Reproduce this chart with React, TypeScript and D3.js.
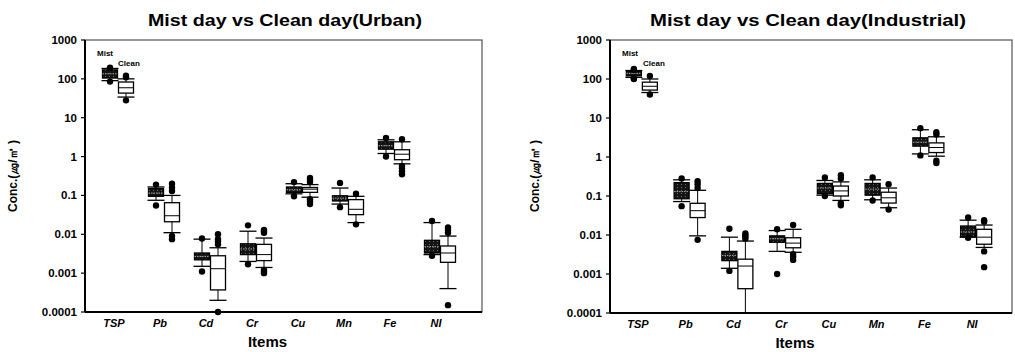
import * as d3 from "d3";
import React, { useRef, useEffect } from "react";

// stats per item: [whiskerLow, q1, median, q3, whiskerHigh]
const items = ["TSP", "Pb", "Cd", "Cr", "Cu", "Mn", "Fe", "Ni"];
const itemLabels = ["TSP", "Pb", "Cd", "Cr", "Cu", "Mn", "Fe", "NI"];
const yTicks = [1000, 100, 10, 1, 0.1, 0.01, 0.001, 0.0001];
const yTickLabels = ["1000", "100", "10", "1", "0.1", "0.01", "0.001", "0.0001"];

const urbanMist = [
  [90, 105, 135, 170, 185],
  [0.075, 0.095, 0.115, 0.15, 0.165],
  [0.0015, 0.0022, 0.0027, 0.0033, 0.0075],
  [0.002, 0.003, 0.0042, 0.0057, 0.012],
  [0.11, 0.12, 0.14, 0.165, 0.2],
  [0.06, 0.072, 0.085, 0.098, 0.155],
  [1.2, 1.55, 1.9, 2.4, 2.7],
  [0.003, 0.0033, 0.0048, 0.007, 0.02],
];
const urbanMistOut = [
  [85, 195],
  [0.055, 0.19],
  [0.0011, 0.0078],
  [0.0017, 0.017],
  [0.095, 0.22],
  [0.05, 0.21],
  [1.0, 3.0],
  [0.0028, 0.022],
];
const urbanClean = [
  [34, 43, 59, 83, 100],
  [0.011, 0.021, 0.03, 0.065, 0.1],
  [0.0002, 0.00037, 0.0013, 0.0028, 0.0045],
  [0.0014, 0.0021, 0.003, 0.0055, 0.008],
  [0.09, 0.12, 0.145, 0.16, 0.19],
  [0.02, 0.032, 0.044, 0.078, 0.095],
  [0.65, 0.83, 1.15, 1.5, 2.4],
  [0.0004, 0.0019, 0.0033, 0.005, 0.009],
];
const urbanCleanOut = [
  [28, 110, 120],
  [0.0075, 0.009, 0.13, 0.16, 0.2],
  [0.0001, 0.0055, 0.0065, 0.0075, 0.01],
  [0.001, 0.0011, 0.0012, 0.011, 0.012, 0.013],
  [0.06, 0.07, 0.08, 0.22, 0.25, 0.28],
  [0.018, 0.11],
  [0.35, 0.42, 0.5, 0.57, 2.8],
  [0.00015, 0.011, 0.013, 0.015],
];

const indMist = [
  [110, 120, 140, 155, 165],
  [0.072, 0.085, 0.13, 0.22, 0.26],
  [0.0014, 0.0022, 0.003, 0.0038, 0.0088],
  [0.0038, 0.0065, 0.008, 0.0095, 0.013],
  [0.105, 0.115, 0.16, 0.21, 0.25],
  [0.08, 0.105, 0.15, 0.21, 0.26],
  [1.2, 1.9, 2.4, 3.1, 5.0],
  [0.0088, 0.009, 0.012, 0.017, 0.024],
];
const indMistOut = [
  [100, 105, 170, 180],
  [0.055, 0.28],
  [0.0012, 0.0145],
  [0.001, 0.014],
  [0.1, 0.3],
  [0.077, 0.3],
  [1.1, 5.5],
  [0.0085, 0.028],
];
const indClean = [
  [45, 52, 65, 83, 100],
  [0.0095, 0.028, 0.042, 0.065, 0.14],
  [0.0001, 0.00042, 0.0016, 0.0024, 0.007],
  [0.0036, 0.0047, 0.0062, 0.0085, 0.014],
  [0.077, 0.1, 0.135, 0.18, 0.23],
  [0.05, 0.066, 0.09, 0.125, 0.16],
  [1.05, 1.3, 1.75, 2.3, 3.3],
  [0.0048, 0.0058, 0.0088, 0.014, 0.018],
];
const indCleanOut = [
  [40, 120],
  [0.0075, 0.16, 0.2, 0.24],
  [0.008, 0.009, 0.01, 0.011],
  [0.0023, 0.0028, 0.0032, 0.018],
  [0.058, 0.065, 0.28, 0.34],
  [0.045, 0.2],
  [0.7, 0.8, 3.8, 4.3],
  [0.0015, 0.0038, 0.022, 0.024],
];

const font = "'Liberation Sans', Arial, sans-serif";
const boxW = 15;

function drawPanel(svg, p) {
  const g = svg.append("g");
  const y = d3.scaleLog().domain([0.0001, 1000]).range([p.bottom, p.top]);
  const x = d3.scaleBand().domain(items).range([p.bandL, p.bandR]);

  // frame
  g.append("rect")
    .attr("x", p.left)
    .attr("y", p.top)
    .attr("width", p.right - p.left)
    .attr("height", p.bottom - p.top)
    .attr("fill", "none")
    .attr("stroke", "#333")
    .attr("stroke-width", 1);
  g.append("line")
    .attr("x1", p.left).attr("x2", p.left)
    .attr("y1", p.top).attr("y2", p.bottom)
    .attr("stroke", "#000").attr("stroke-width", 2);
  g.append("line")
    .attr("x1", p.left).attr("x2", p.right)
    .attr("y1", p.bottom).attr("y2", p.bottom)
    .attr("stroke", "#000").attr("stroke-width", 2);

  // y ticks
  yTicks.forEach((t, i) => {
    g.append("line")
      .attr("x1", p.left - 4).attr("x2", p.left)
      .attr("y1", y(t)).attr("y2", y(t))
      .attr("stroke", "#000").attr("stroke-width", 1.2);
    g.append("text")
      .attr("x", p.left - 8)
      .attr("y", y(t) + 4)
      .attr("text-anchor", "end")
      .attr("font-family", font)
      .attr("font-weight", "bold")
      .attr("font-size", 11.5)
      .text(yTickLabels[i]);
  });

  // x labels
  items.forEach((c, i) => {
    g.append("text")
      .attr("x", x(c) + x.bandwidth() / 2 - 4)
      .attr("y", p.bottom + 15)
      .attr("text-anchor", "middle")
      .attr("font-family", font)
      .attr("font-weight", "bold")
      .attr("font-style", "italic")
      .attr("font-size", 11)
      .text(itemLabels[i]);
  });

  g.append("text")
    .attr("x", p.titleX)
    .attr("y", 26)
    .attr("text-anchor", "middle")
    .attr("font-family", font)
    .attr("font-weight", "bold")
    .attr("font-size", 17)
    .attr("textLength", p.titleW)
    .attr("lengthAdjust", "spacingAndGlyphs")
    .text(p.title);

  g.append("text")
    .attr("x", (p.left + p.right) / 2 - 16)
    .attr("y", p.bottom + 35)
    .attr("text-anchor", "middle")
    .attr("font-family", font)
    .attr("font-weight", "bold")
    .attr("font-size", 15)
    .text("Items");

  g.append("text")
    .attr("transform", `translate(${p.ylabX},176) rotate(-90)`)
    .attr("text-anchor", "middle")
    .attr("font-family", font)
    .attr("font-weight", "bold")
    .attr("font-size", 12)
    .text("Conc.(㎍/㎥ )");

  const series = [
    { stats: p.mist, out: p.mistOut, dx: -8, dark: true },
    { stats: p.clean, out: p.cleanOut, dx: 8, dark: false },
  ];

  series.forEach((s) => {
    items.forEach((c, i) => {
      const [lo, q1, med, q3, hi] = s.stats[i];
      const cx = x(c) + x.bandwidth() / 2 + s.dx;
      const bg = g.append("g");
      // whiskers
      bg.append("line")
        .attr("x1", cx).attr("x2", cx)
        .attr("y1", y(lo)).attr("y2", y(hi))
        .attr("stroke", "#000").attr("stroke-width", 1);
      [lo, hi].forEach((v) => {
        bg.append("line")
          .attr("x1", cx - boxW / 2 - 1).attr("x2", cx + boxW / 2 + 1)
          .attr("y1", y(v)).attr("y2", y(v))
          .attr("stroke", "#000").attr("stroke-width", 1.3);
      });
      bg.append("rect")
        .attr("x", cx - boxW / 2)
        .attr("y", y(q3))
        .attr("width", boxW)
        .attr("height", Math.max(2, y(q1) - y(q3)))
        .attr("fill", s.dark ? "url(#mistFill)" : "#fff")
        .attr("stroke", "#000")
        .attr("stroke-width", 1.3);
      bg.append("line")
        .attr("x1", cx - boxW / 2).attr("x2", cx + boxW / 2)
        .attr("y1", y(med)).attr("y2", y(med))
        .attr("stroke", s.dark ? "#aaa" : "#000")
        .attr("stroke-dasharray", s.dark ? "1.5,1" : null)
        .attr("stroke-width", 1);
      bg.selectAll("circle")
        .data(s.out[i])
        .join("circle")
        .attr("cx", cx)
        .attr("cy", (d) => y(d))
        .attr("r", 3.2)
        .attr("fill", "#000");
    });
  });

  g.append("text")
    .attr("x", p.left + 12)
    .attr("y", 56)
    .attr("font-family", font)
    .attr("font-weight", "bold")
    .attr("font-size", 8)
    .text("Mist");
  g.append("text")
    .attr("x", p.left + 33)
    .attr("y", 66)
    .attr("font-family", font)
    .attr("font-weight", "bold")
    .attr("font-size", 8)
    .text("Clean");
}

function App() {
  const ref = useRef(null);

  useEffect(() => {
    const svg = d3.select(ref.current);
    svg.selectAll("*").remove();

    const pat = svg
      .append("defs")
      .append("pattern")
      .attr("id", "mistFill")
      .attr("patternUnits", "userSpaceOnUse")
      .attr("width", 4)
      .attr("height", 3);
    pat.append("rect").attr("width", 4).attr("height", 3).attr("fill", "#141414");
    pat.append("rect").attr("x", 1).attr("y", 1).attr("width", 1).attr("height", 1).attr("fill", "#6a6a6a");

    drawPanel(svg, {
      title: "Mist day vs Clean day(Urban)",
      titleX: 285, titleW: 274,
      left: 85, right: 482, top: 40, bottom: 312,
      bandL: 95, bandR: 463,
      ylabX: 17,
      mist: urbanMist, mistOut: urbanMistOut,
      clean: urbanClean, cleanOut: urbanCleanOut,
    });
    drawPanel(svg, {
      title: "Mist day vs Clean day(Industrial)",
      titleX: 808, titleW: 316,
      left: 610, right: 1012, top: 40, bottom: 313,
      bandL: 618, bandR: 1000,
      ylabX: 539,
      mist: indMist, mistOut: indMistOut,
      clean: indClean, cleanOut: indCleanOut,
    });
  }, []);

  return (
    <svg
      ref={ref}
      width={1015}
      height={352}
      style={{ position: "absolute", left: 0, top: 0, background: "#fff" }}
    ></svg>
  );
}

export default App;
